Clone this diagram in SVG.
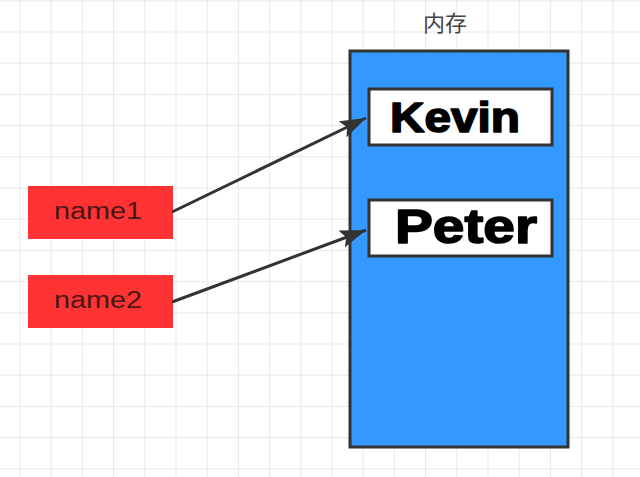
<svg xmlns="http://www.w3.org/2000/svg" width="640" height="477" viewBox="0 0 640 477">
<defs>
<pattern id="grid" x="19.5" y="0.3" width="31.2" height="31.2" patternUnits="userSpaceOnUse">
<path d="M0 0V31.2M0 0H31.2" stroke="#e8e8e8" stroke-width="2" fill="none"/>
</pattern>
<marker id="ah" viewBox="0 0 26 18" refX="26" refY="9" markerWidth="26" markerHeight="18" markerUnits="userSpaceOnUse" orient="auto">
<path d="M0 0L26 9L0 18L5 9z" fill="#333"/>
</marker>
</defs>
<style>
.name{fill:#ff3333}
.nt{font-family:"Liberation Sans",Arial,sans-serif;font-size:23px;fill:#4a1515}
.val{fill:#fff;stroke:#333;stroke-width:3}
.vt{font-family:"Liberation Sans",Arial,sans-serif;font-weight:bold;fill:#000;stroke:#000;stroke-width:1.6;stroke-linejoin:round}
.conn{stroke:#333;stroke-width:3;fill:none}
</style>
<rect width="640" height="477" fill="#fff"/>
<rect width="640" height="477" fill="url(#grid)"/>
<g id="memory">
<rect x="350" y="51" width="218" height="396" fill="#3399ff" stroke="#333" stroke-width="3"/>
<text x="445" y="31" text-anchor="middle" font-family="'Noto Sans CJK SC',sans-serif" font-size="22" fill="#444">内存</text>
</g>
<g id="kevin">
<rect class="val" x="369" y="89" width="183" height="56"/>
<text class="vt" x="390" y="132" font-size="42" textLength="130" lengthAdjust="spacingAndGlyphs">Kevin</text>
</g>
<g id="peter">
<rect class="val" x="369" y="200" width="183" height="56"/>
<text class="vt" x="395" y="243" font-size="48" textLength="142" lengthAdjust="spacingAndGlyphs">Peter</text>
</g>
<g id="name1">
<rect class="name" x="28" y="186" width="145" height="53"/>
<text class="nt" x="54" y="219" textLength="88" lengthAdjust="spacingAndGlyphs">name1</text>
</g>
<g id="name2">
<rect class="name" x="28" y="275" width="145" height="53"/>
<text class="nt" x="54" y="308" textLength="88" lengthAdjust="spacingAndGlyphs">name2</text>
</g>
<g id="connectors">
<line class="conn" x1="172" y1="212" x2="366" y2="118" marker-end="url(#ah)"/>
<line class="conn" x1="172" y1="302" x2="366" y2="230" marker-end="url(#ah)"/>
</g>
</svg>
